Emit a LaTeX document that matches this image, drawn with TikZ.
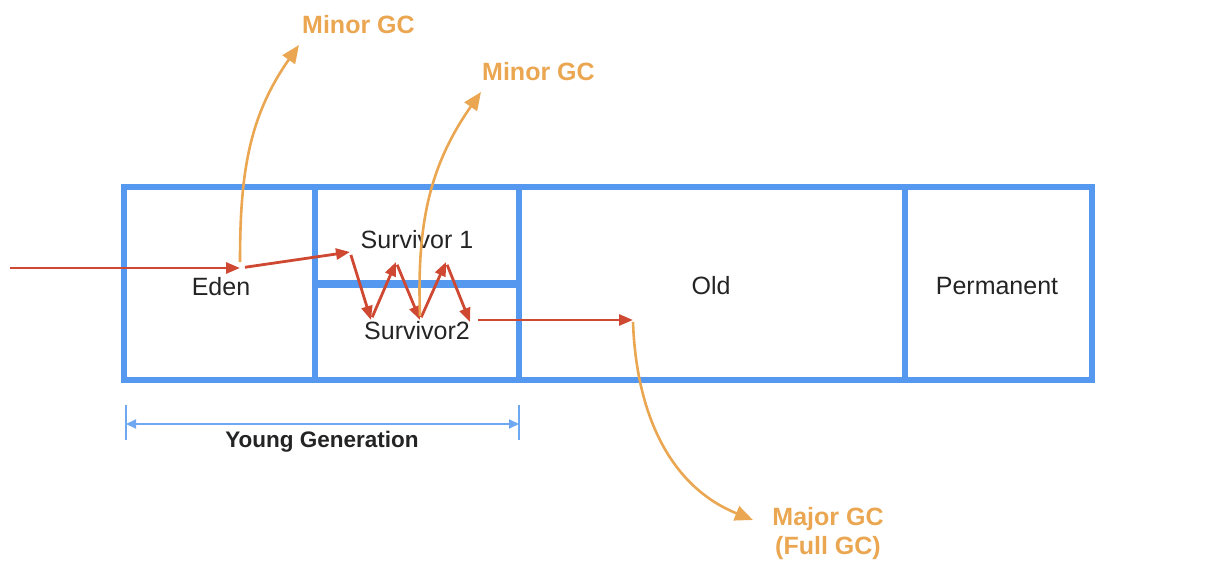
\documentclass[tikz,border=0pt]{standalone}
\usepackage{fontspec}
\setmainfont{Liberation Sans}
\usetikzlibrary{arrows.meta}
\definecolor{heapblue}{RGB}{84,152,240}
\definecolor{dimblue}{RGB}{110,168,240}
\definecolor{flowred}{RGB}{206,72,50}
\definecolor{gcorange}{RGB}{234,166,80}
\definecolor{txt}{RGB}{36,36,36}
\begin{document}
\begin{tikzpicture}[x=1pt,y=1pt,
  region/.style={draw=heapblue,line width=6pt,outer sep=0pt,inner sep=0pt,text=txt,
    font=\fontsize{25}{29}\selectfont},
  flow/.style={draw=flowred,line width=2.8pt,-{Triangle[length=14pt,width=11pt]}},
  gc/.style={draw=gcorange,line width=2.6pt,-{Triangle[length=18pt,width=15pt]}},
  gclabel/.style={text=gcorange,font=\bfseries\fontsize{25}{29}\selectfont,inner sep=0pt},
  dim/.style={draw=dimblue,line width=2pt}]
\useasboundingbox (0,0) rectangle (1220,-588);
% heap regions
\node[region,minimum width=191pt,minimum height=193pt] (eden) at (219.5,-283.5) {};
\node[region,minimum width=204pt,minimum height=97pt] (surv1) at (417,-235.5) {};
\node[region,minimum width=204pt,minimum height=96pt] (surv2) at (417,-332) {};
\node[region,minimum width=386pt,minimum height=193pt] (old) at (712,-283.5) {};
\node[region,minimum width=187pt,minimum height=193pt] (perm) at (998.5,-283.5) {};
\draw[heapblue,line width=8pt] (surv1.south west) -- (surv1.south east);
% labels
\node[region,draw=none] (edenl) at (221,-287) {Eden};
\node[region,draw=none] (s1l) at (417,-240) {Survivor 1};
\node[region,draw=none] (s2l) at (417,-331) {Survivor2};
\node[region,draw=none] (oldl) at (711,-286) {Old};
\node[region,draw=none] (perml) at (997,-286) {Permanent};
% flow points
\coordinate (src) at (10,-268);
\coordinate (ep) at (240,-268);
\coordinate (z0) at (350,-252);
\coordinate (z1) at (371,-320);
\coordinate (z2) at (396,-262);
\coordinate (z3) at (420,-320);
\coordinate (z4) at (446,-262);
\coordinate (z5) at (470,-322);
\coordinate (z6) at (478,-320);
\coordinate (op) at (633,-320);
\draw[flow] (src) -- (ep);
\draw[flow,shorten <=5pt] (ep) -- (z0);
\draw[flow,shorten <=3pt] (z0) -- (z1);
\draw[flow,shorten <=3pt] (z1) -- (z2);
\draw[flow,shorten <=3pt] (z2) -- (z3);
\draw[flow,shorten <=3pt] (z3) -- (z4);
\draw[flow,shorten <=3pt] (z4) -- (z5);
\draw[flow] (z6) -- (op);
% GC labels and arrows
\node[gclabel,anchor=west] (mg1) at (302,-25) {Minor GC};
\node[gclabel,anchor=west] (mg2) at (482,-72) {Minor GC};
\node[gclabel,align=center] (maj) at (828,-534) {Major GC\\(Full GC)};
\coordinate (e1) at (240,-262);
\coordinate (t1) at (299,-45);
\coordinate (e2) at (420,-316);
\coordinate (t2) at (481,-92);
\coordinate (e3) at (633,-322);
\coordinate (t3) at (753,-520);
\draw[gc] (e1) to[out=90,in=235] (t1);
\draw[gc] (e2) to[out=92,in=235] (t2);
\draw[gc] (e3) to[out=-88,in=158] (t3);
% young generation dimension
\coordinate (yl) at (126,-424);
\coordinate (yr) at (519,-424);
\draw[dim] (126,-405) -- (126,-440);
\draw[dim] (519,-405) -- (519,-440);
\draw[dim,{Triangle[length=10pt,width=9pt]}-{Triangle[length=10pt,width=9pt]}] (yl) -- (yr);
\node[text=txt,font=\bfseries\fontsize{22.5}{26}\selectfont] (yg) at (322,-442) {Young Generation};
\end{tikzpicture}
\end{document}
